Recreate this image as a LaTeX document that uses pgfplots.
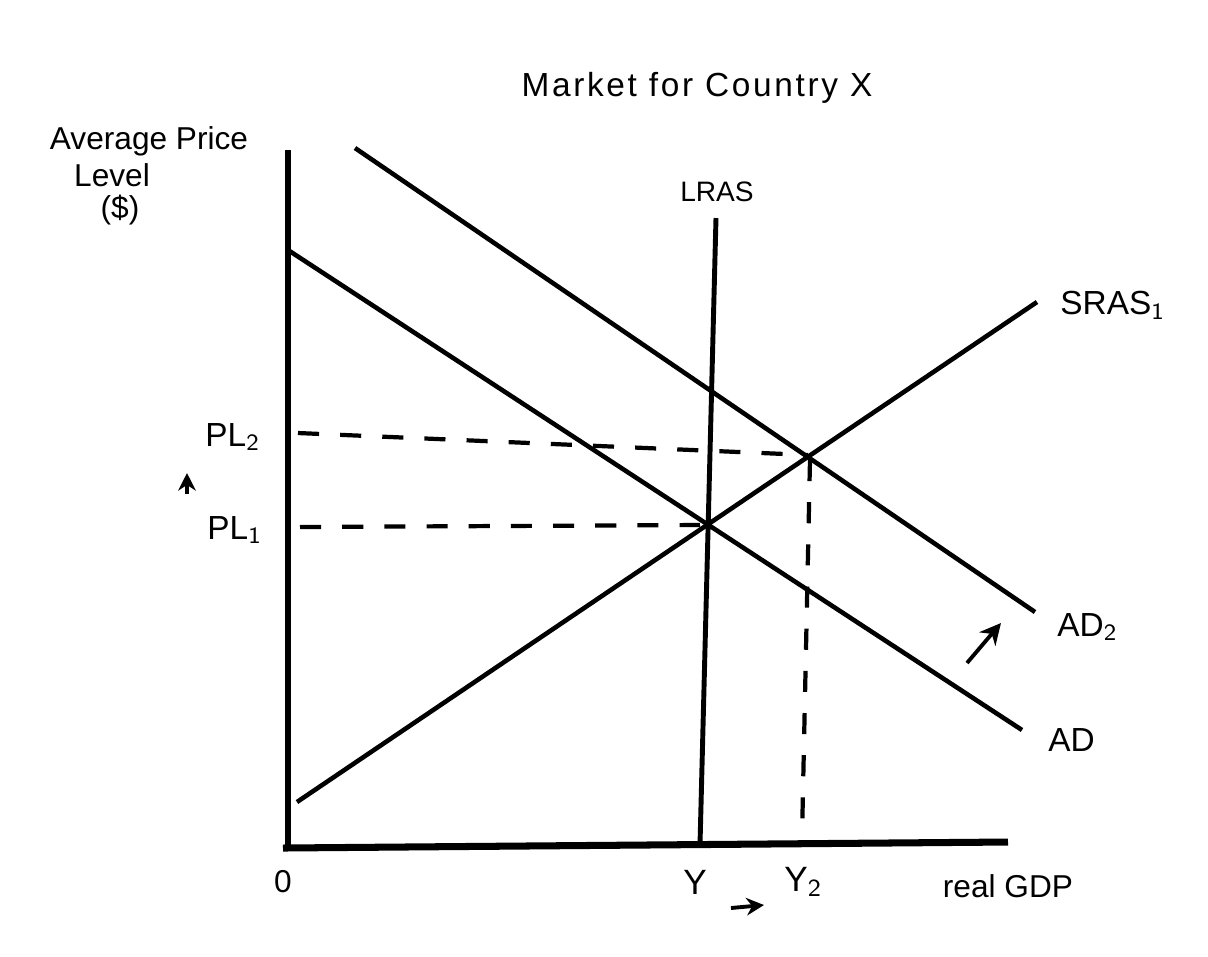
\documentclass[border=0pt]{standalone}
\usepackage{fontspec}
\setmainfont{Liberation Sans}
\usepackage{pgfplots}
\pgfplotsset{compat=1.18}
\usetikzlibrary{arrows.meta}
\begin{document}
\begin{tikzpicture}
\begin{axis}[scale only axis, width=12.08cm, height=9.56cm,
  xmin=0, xmax=1208, ymin=0, ymax=956, y dir=reverse,
  hide axis, clip=false]
\path (axis cs:0,0) rectangle (axis cs:1208,956);
% axes
\addplot[black, line width=1.6pt] coordinates {(288,150) (288,850)};
\addplot[black, line width=2pt] coordinates {(283,848) (1008,842)};
% curves
\addplot[black, line width=1.3pt] coordinates {(288,250) (1022,730)};
\addplot[black, line width=1.3pt] coordinates {(355,148) (1035,612)};
\addplot[black, line width=1.3pt] coordinates {(297,802) (1037,302)};
\addplot[black, line width=1.4pt] coordinates {(716,218) (700,845)};
% dashed guides
\addplot[black, line width=1.2pt, dash pattern=on 6pt off 6pt] coordinates {(298,433) (808,455)};
\addplot[black, line width=1.2pt, dash pattern=on 6pt off 6pt] coordinates {(300,527) (700,525)};
\addplot[black, line width=1.2pt, dash pattern=on 6pt off 6pt] coordinates {(810,460) (802,838)};
% arrows
\addplot[black, line width=1.1pt, -{Stealth[length=5pt,width=5pt]}] coordinates {(187,494) (187,473)};
\addplot[black, line width=1.1pt, -{Stealth[length=5pt,width=5pt]}] coordinates {(731,908) (764,905)};
\addplot[black, line width=1.1pt, -{Stealth[length=6pt,width=6pt]}] coordinates {(967,663) (1001,623)};
% labels
\node[font=\fontsize{9.5}{10}\selectfont\addfontfeature{LetterSpace=8}] at (axis cs:697,88) {Market for Country X};
\node[font=\fontsize{9}{10}\selectfont] at (axis cs:149,141) {Average Price};
\node[font=\fontsize{9}{10}\selectfont] at (axis cs:112,175) {Level};
\node[font=\fontsize{9}{10}\selectfont] at (axis cs:120,210) {(\$)};
\node[font=\fontsize{8}{9}\selectfont] at (axis cs:717,192) {LRAS};
\node[font=\fontsize{9.5}{10}\selectfont, anchor=west] at (axis cs:1048,305) {SRAS$_{\mathsf{1}}$};
\node[font=\fontsize{9.5}{10}\selectfont, anchor=west] at (axis cs:1045,627) {AD$_{\mathsf{2}}$};
\node[font=\fontsize{9.5}{10}\selectfont, anchor=west] at (axis cs:1036,740) {AD};
\node[font=\fontsize{9.5}{10}\selectfont, anchor=west] at (axis cs:193,437) {PL$_{\mathsf{2}}$};
\node[font=\fontsize{9.5}{10}\selectfont, anchor=west] at (axis cs:195,530) {PL$_{\mathsf{1}}$};
\node[font=\fontsize{9}{10}\selectfont] at (axis cs:283,882) {0};
\node[font=\fontsize{10}{11}\selectfont] at (axis cs:695,882) {Y};
\node[font=\fontsize{10}{11}\selectfont, anchor=west] at (axis cs:772,882) {Y$_{\mathsf{2}}$};
\node[font=\fontsize{9}{10}\selectfont] at (axis cs:1008,886) {real GDP};
\end{axis}
\end{tikzpicture}
\end{document}
